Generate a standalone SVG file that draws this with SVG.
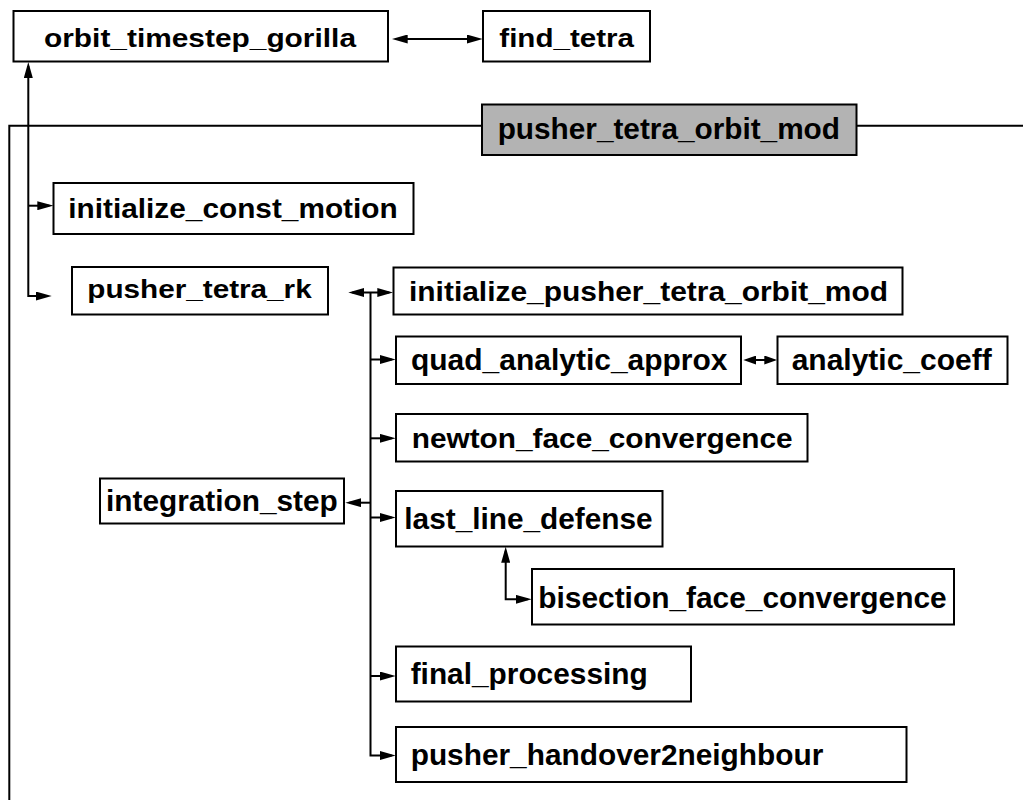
<svg xmlns="http://www.w3.org/2000/svg" width="1023" height="800" viewBox="0 0 1023 800">
<style>
.box{fill:#fff;stroke:#000;stroke-width:2}
.pkg{fill:#b3b3b3;stroke:#000;stroke-width:2}
.t{font-family:"Liberation Sans",Arial,sans-serif;font-weight:bold;fill:#000}
.c{fill:none;stroke:#000;stroke-width:2}
.a{marker-end:url(#ah)}
.aa{marker-start:url(#ah);marker-end:url(#ah)}
</style>
<defs>
<marker id="ah" viewBox="0 0 16 9" refX="12" refY="4.5" markerWidth="16" markerHeight="9" markerUnits="userSpaceOnUse" orient="auto-start-reverse"><path d="M0,0 L16,4.5 L0,9 z" fill="#000"/></marker>
<marker id="ahs" viewBox="0 0 13 9" refX="10" refY="4.5" markerWidth="13" markerHeight="9" markerUnits="userSpaceOnUse" orient="auto-start-reverse"><path d="M0,0 L13,4.5 L0,9 z" fill="#000"/></marker>
</defs>
<g id="connectors">
<path class="c" d="M1023 125.7 L9.3 125.7 L9.3 800"/>
<path class="c aa" d="M395.7 39 L478.7 39"/>
<path class="c aa" d="M28.3 66 L28.3 296 L47.7 296"/>
<path class="c a" d="M28.3 205.7 L49.3 205.7"/>
<path class="c aa" d="M352.3 292.5 L389.3 292.5"/>
<path class="c a" d="M370.5 292.5 L370.5 755.5 L391.7 755.5"/>
<path class="c a" d="M370.5 359.5 L391.7 359.5"/>
<path class="c a" d="M370.5 438.3 L391.7 438.3"/>
<path class="c a" d="M370.5 502.7 L349.3 502.7"/>
<path class="c a" d="M370.5 517.5 L391.7 517.5"/>
<path class="c a" d="M370.5 676 L391.7 676"/>
<path class="c" d="M746.3 360 L774.3 360" marker-start="url(#ahs)" marker-end="url(#ahs)"/>
<path class="c aa" d="M505.7 550.7 L505.7 599.3 L527.7 599.3"/>
</g>
<g id="orbit_timestep_gorilla"><rect class="box" x="13.5" y="11" width="374.5" height="50.5"/><text class="t" x="44" y="47" font-size="25.5" textLength="312" lengthAdjust="spacingAndGlyphs">orbit_timestep_gorilla</text></g>
<g id="find_tetra"><rect class="box" x="483" y="11" width="167" height="50.5"/><text class="t" x="499.3" y="47" font-size="25.5" textLength="134.7" lengthAdjust="spacingAndGlyphs">find_tetra</text></g>
<g id="pusher_tetra_orbit_mod"><rect class="pkg" x="482" y="104.5" width="374.5" height="50.5"/><text class="t" x="497.7" y="139.3" font-size="29" textLength="342.3" lengthAdjust="spacingAndGlyphs">pusher_tetra_orbit_mod</text></g>
<g id="initialize_const_motion"><rect class="box" x="53.5" y="183" width="360" height="51"/><text class="t" x="68.3" y="218.3" font-size="27.8" textLength="329.4" lengthAdjust="spacingAndGlyphs">initialize_const_motion</text></g>
<g id="pusher_tetra_rk"><rect class="box" x="72" y="267" width="256" height="47.5"/><text class="t" x="87.3" y="298.3" font-size="26.4" textLength="224.4" lengthAdjust="spacingAndGlyphs">pusher_tetra_rk</text></g>
<g id="initialize_pusher_tetra_orbit_mod"><rect class="box" x="393.5" y="267.5" width="509" height="47"/><text class="t" x="409" y="300.5" font-size="27.8" textLength="479" lengthAdjust="spacingAndGlyphs">initialize_pusher_tetra_orbit_mod</text></g>
<g id="quad_analytic_approx"><rect class="box" x="396" y="336.5" width="345" height="47.5"/><text class="t" x="411" y="370" font-size="28.7" textLength="316.5" lengthAdjust="spacingAndGlyphs">quad_analytic_approx</text></g>
<g id="analytic_coeff"><rect class="box" x="777.5" y="336.5" width="230" height="47.5"/><text class="t" x="791.7" y="370" font-size="28.7" textLength="200" lengthAdjust="spacingAndGlyphs">analytic_coeff</text></g>
<g id="newton_face_convergence"><rect class="box" x="396" y="414" width="411.5" height="47.5"/><text class="t" x="411.7" y="447.7" font-size="28" textLength="381" lengthAdjust="spacingAndGlyphs">newton_face_convergence</text></g>
<g id="integration_step"><rect class="box" x="100" y="478.5" width="244" height="45"/><text class="t" x="106" y="511" font-size="29" textLength="231.7" lengthAdjust="spacingAndGlyphs">integration_step</text></g>
<g id="last_line_defense"><rect class="box" x="396" y="491" width="266.5" height="55.5"/><text class="t" x="404.3" y="529.3" font-size="30" textLength="248.4" lengthAdjust="spacingAndGlyphs">last_line_defense</text></g>
<g id="bisection_face_convergence"><rect class="box" x="532" y="569" width="422" height="55.5"/><text class="t" x="538.3" y="607.7" font-size="30" textLength="408.4" lengthAdjust="spacingAndGlyphs">bisection_face_convergence</text></g>
<g id="final_processing"><rect class="box" x="396" y="646.5" width="295" height="55"/><text class="t" x="410.7" y="684" font-size="30" textLength="237" lengthAdjust="spacingAndGlyphs">final_processing</text></g>
<g id="pusher_handover2neighbour"><rect class="box" x="396" y="727" width="510.5" height="55"/><text class="t" x="410.7" y="765" font-size="30" textLength="412.6" lengthAdjust="spacingAndGlyphs">pusher_handover2neighbour</text></g>
</svg>
